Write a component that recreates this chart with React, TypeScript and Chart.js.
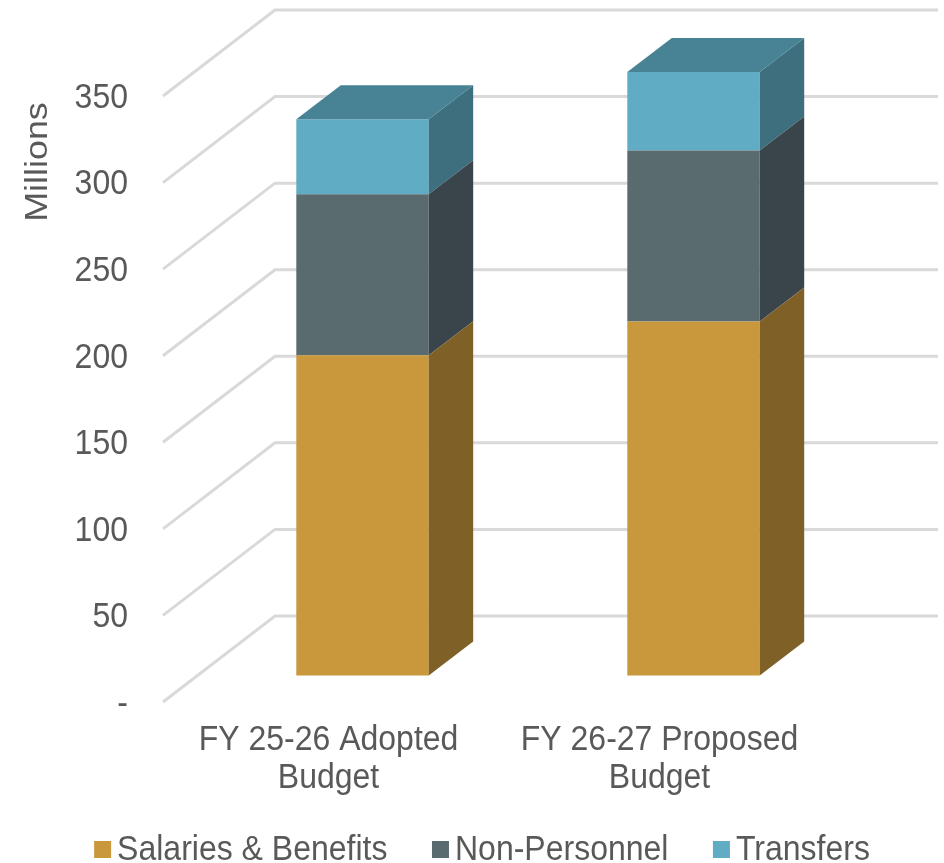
import React, { useEffect, useRef } from "react";
import { Chart, registerables } from "chart.js";

Chart.register(...registerables);

const categories = [["FY 25-26 Adopted", "Budget"], ["FY 26-27 Proposed", "Budget"]];
const salaries = [185, 204.5];
const nonPersonnel = [93, 98.7];
const transfers = [43.3, 45.3];
const yTitle = "Millions";
const FONT = '"Liberation Sans", Arial, sans-serif';
const TEXT = "#595959";
const GRID = "#d9d9d9";
const STRETCH = 1.12;
const WALL_DX = 112;
const WALL_DY = -86;
const BAR_SHIFT_X = 34;
const BAR_SHIFT_Y = -26.5;
const DEPTH_X = 44.5;
const DEPTH_Y = -34;
const sideColors = ["#7f6128", "#39454a", "#3e6f7f"];
const topColor = "#478395";

function label(ctx: any, text: string, x: number, y: number, align: string) {
  ctx.save();
  ctx.translate(x, y);
  ctx.scale(1, STRETCH);
  ctx.textAlign = align;
  ctx.textBaseline = "middle";
  ctx.fillText(text, 0, 0);
  ctx.restore();
}

const wallPlugin = {
  id: "wall",
  beforeDatasetsDraw(chart: any) {
    const { ctx, chartArea, scales } = chart;
    const y = scales.y;
    ctx.save();
    ctx.strokeStyle = GRID;
    ctx.lineWidth = 3;
    y.ticks.forEach((t: any) => {
      const py = y.getPixelForValue(t.value);
      ctx.beginPath();
      ctx.moveTo(chartArea.left, py);
      ctx.lineTo(chartArea.left + WALL_DX, py + WALL_DY);
      ctx.lineTo(chartArea.right + WALL_DX + 1, py + WALL_DY);
      ctx.stroke();
    });
    ctx.restore();
  },
  beforeDatasetDraw(chart: any) {
    chart.ctx.save();
    chart.ctx.translate(BAR_SHIFT_X, BAR_SHIFT_Y);
  },
  afterDatasetDraw(chart: any, args: any) {
    const ctx = chart.ctx;
    const last = args.index === chart.data.datasets.length - 1;
    args.meta.data.forEach((bar: any) => {
      const r = bar.x + bar.width / 2;
      const l = bar.x - bar.width / 2;
      ctx.fillStyle = sideColors[args.index];
      ctx.beginPath();
      ctx.moveTo(r, bar.y);
      ctx.lineTo(r + DEPTH_X, bar.y + DEPTH_Y);
      ctx.lineTo(r + DEPTH_X, bar.base + DEPTH_Y);
      ctx.lineTo(r, bar.base);
      ctx.closePath();
      ctx.fill();
      if (last) {
        ctx.fillStyle = topColor;
        ctx.beginPath();
        ctx.moveTo(l, bar.y);
        ctx.lineTo(l + DEPTH_X, bar.y + DEPTH_Y);
        ctx.lineTo(r + DEPTH_X, bar.y + DEPTH_Y);
        ctx.lineTo(r, bar.y);
        ctx.closePath();
        ctx.fill();
      }
    });
    ctx.restore();
  },
  afterDraw(chart: any) {
    const { ctx, scales, chartArea } = chart;
    ctx.save();
    ctx.fillStyle = TEXT;
    ctx.font = `32px ${FONT}`;

    scales.y.ticks.forEach((t: any, i: number) => {
      label(ctx, t.label, chartArea.left - 35, scales.y.getPixelForTick(i) + 2, "right");
    });
    scales.x.ticks.forEach((t: any, i: number) => {
      const px = scales.x.getPixelForTick(i);
      t.label.forEach((line: string, j: number) => {
        label(ctx, line, px, chartArea.bottom + 38 + j * 38, "center");
      });
    });

    ctx.save();
    ctx.translate(38, 162);
    ctx.rotate(-Math.PI / 2);
    ctx.scale(STRETCH, 1);
    ctx.textAlign = "center";
    ctx.textBaseline = "middle";
    ctx.fillText(yTitle, 0, 0);
    ctx.restore();

    const sets = chart.data.datasets;
    const box = 17;
    const gap = 6;
    const between = 44.5;
    const total = sets.reduce((s: number, d: any) => s + box + gap + ctx.measureText(d.label).width, 0) + between * (sets.length - 1);
    let x = 482 - total / 2;
    sets.forEach((d: any) => {
      ctx.fillStyle = d.backgroundColor;
      ctx.fillRect(x, 841, box, 17);
      x += box + gap;
      ctx.fillStyle = TEXT;
      label(ctx, d.label, x, 850, "left");
      x += ctx.measureText(d.label).width + between;
    });
    ctx.restore();
  },
};

export default function App() {
  const ref = useRef<HTMLCanvasElement>(null);
  useEffect(() => {
    document.body.style.margin = "0";
    const chart = new Chart(ref.current!, {
      type: "bar",
      data: {
        labels: categories as any,
        datasets: [
          { label: "Salaries & Benefits", data: salaries, backgroundColor: "#c9983c" },
          { label: "Non-Personnel", data: nonPersonnel, backgroundColor: "#5a6b70" },
          { label: "Transfers", data: transfers, backgroundColor: "#60acc4" },
        ],
      },
      options: {
        responsive: false,
        animation: false,
        layout: { padding: { left: 0, right: 119, top: 96, bottom: 0 } },
        plugins: { legend: { display: false }, tooltip: { enabled: false } },
        datasets: { bar: { categoryPercentage: 1, barPercentage: 0.4, clip: false } as any },
        scales: {
          x: {
            stacked: true,
            grid: { display: false },
            border: { display: false },
            afterFit(axis: any) { axis.height = 161; },
            ticks: { display: false, autoSkip: false, maxRotation: 0, minRotation: 0 },
          },
          y: {
            stacked: true,
            min: 0,
            max: 350,
            grid: { display: false, drawTicks: false },
            border: { display: false },
            afterFit(axis: any) { axis.width = 163; },
            ticks: {
              display: false,
              stepSize: 50,
              callback: (v: any) => (v === 0 ? "-" : String(v)),
            },
          },
        },
      } as any,
      plugins: [wallPlugin],
    });
    return () => chart.destroy();
  }, []);
  return <canvas ref={ref} width={944} height={863} style={{ display: "block" }} />;
}
